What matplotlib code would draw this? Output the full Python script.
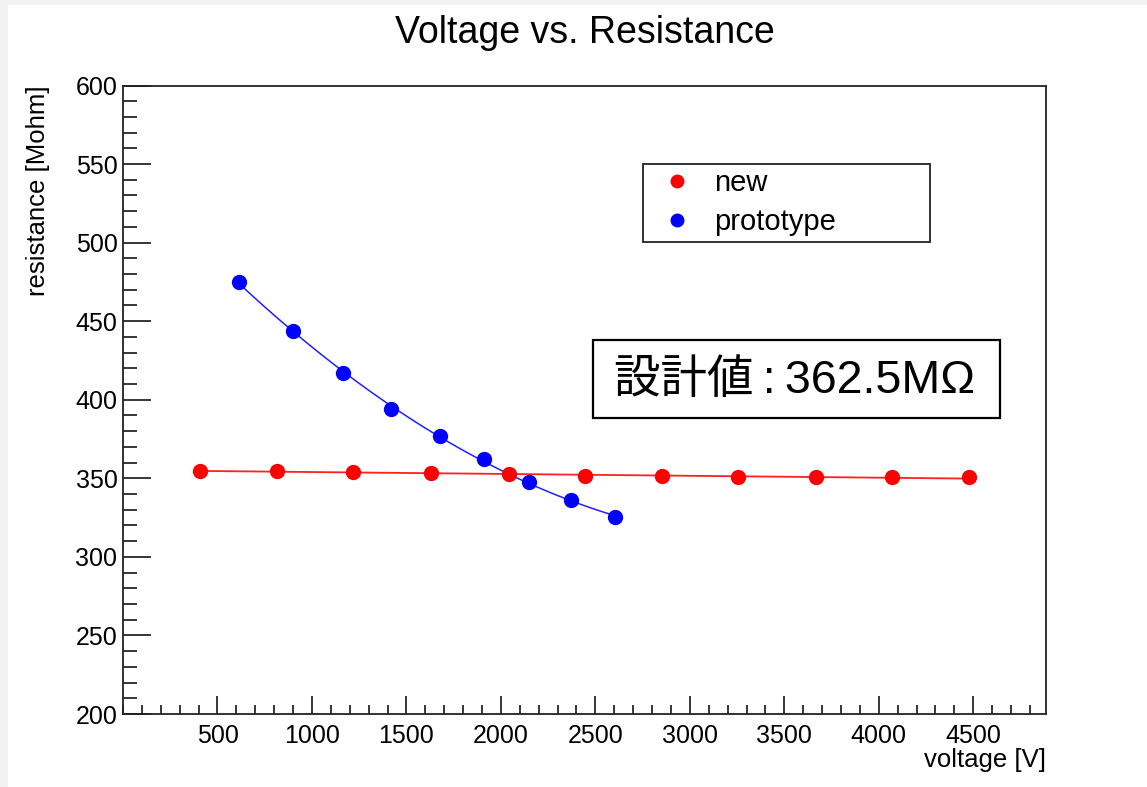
#!/usr/bin/env python

import matplotlib
matplotlib.use("Agg")
import matplotlib.pyplot as plt
from matplotlib.lines import Line2D
from matplotlib.patches import Rectangle
from matplotlib.ticker import MultipleLocator
import numpy as np

plt.rcParams["font.family"] = ["Liberation Sans", "DejaVu Sans"]

# measured points
new_voltage = [405, 817, 1219, 1632, 2043, 2447, 2855, 3257, 3670, 4072, 4479]
new_resistance = [354.8, 354.8, 353.8, 353.2, 352.7, 351.6, 351.6, 350.6, 350.6, 350.6, 350.6]

proto_voltage = [615, 899, 1167, 1419, 1676, 1912, 2147, 2373, 2602]
proto_resistance = [474.7, 443.7, 416.8, 393.9, 377.1, 362.3, 347.4, 336.0, 325.1]

x_range = (0, 4885)
y_range = (200, 600)
design_label = "設計値\u2009:\u2009362.5MΩ"


def fit_curve(x, y, deg):
    coef = np.polyfit(x, y, deg)
    xs = np.linspace(min(x), max(x), 200)
    return xs, np.polyval(coef, xs)


fig = plt.figure(figsize=(11.47, 7.87), dpi=100, facecolor="#f2f2f2")
fig.patches.append(Rectangle((8 / 1147, 0), 1, 1 - 5 / 787, transform=fig.transFigure,
                             facecolor="white", edgecolor="none", zorder=-10))

ax = fig.add_axes([123 / 1147, 1 - 714 / 787, 923 / 1147, 628.5 / 787])
ax.set_facecolor("white")

# fitted lines
fx, fy = fit_curve(new_voltage, new_resistance, 1)
ax.plot(fx, fy, color="#ff2020", lw=1.3, zorder=2)
px, py = fit_curve(proto_voltage, proto_resistance, 2)
ax.plot(px, py, color="#2020ff", lw=1.1, zorder=2)

ax.plot(new_voltage, new_resistance, "o", color="red", ms=10, mec="red", zorder=3)
ax.plot(proto_voltage, proto_resistance, "o", color="blue", ms=10, mec="blue", zorder=3)

ax.set_xlim(*x_range)
ax.set_ylim(*y_range)
ax.set_xticks(np.arange(500, 4501, 500))
ax.xaxis.set_minor_locator(MultipleLocator(100))
ax.set_yticks(np.arange(200, 601, 50))
ax.yaxis.set_minor_locator(MultipleLocator(10))
ax.tick_params(axis="both", which="both", direction="in", colors="black", labelsize=18, width=1.1)
ax.tick_params(axis="y", which="major", length=20, pad=4)
ax.tick_params(axis="y", which="minor", length=10)
ax.tick_params(axis="x", which="major", length=13, pad=7)
ax.tick_params(axis="x", which="minor", length=6.5)
for s in ax.spines.values():
    s.set_color("#222222")
    s.set_linewidth(1.3)

ax.set_xlabel("voltage [V]", fontsize=18.5, loc="right")
ax.xaxis.set_label_coords(1.0, -0.054)
ax.set_ylabel("resistance [Mohm]", fontsize=18.5, loc="top")
ax.yaxis.set_label_coords(-0.079, 1.0)

fig.text(584.5 / 1147, 1 - 33 / 787, "Voltage vs. Resistance", fontsize=27,
         ha="center", va="center")

handles = [
    Line2D([], [], ls="none", marker="o", color="red", ms=9),
    Line2D([], [], ls="none", marker="o", color="blue", ms=9),
]
leg = ax.legend(handles, ["new", "prototype"], fontsize=21, loc="lower left",
                bbox_to_anchor=((643 - 123) / 923, (714 - 242) / 628.5, 287 / 923, 79 / 628.5),
                mode="expand", borderaxespad=0, borderpad=0.2, handlelength=1.95,
                handletextpad=0.27, labelspacing=0.37, fancybox=False, framealpha=1)
leg.get_frame().set_edgecolor("#222222")
leg.get_frame().set_linewidth(1.3)

# design value box
fig.patches.append(Rectangle((593 / 1147, 1 - 418 / 787), 407 / 1147, 78 / 787,
                             transform=fig.transFigure, facecolor="white",
                             edgecolor="black", lw=1.6, zorder=5))
fig.text(794 / 1147, 1 - 381 / 787, design_label, fontsize=33.5, ha="center", va="center",
         family=["Liberation Sans", "Noto Sans CJK JP", "DejaVu Sans"], zorder=6)

fig.savefig("out.png", dpi=100, facecolor=fig.get_facecolor())
